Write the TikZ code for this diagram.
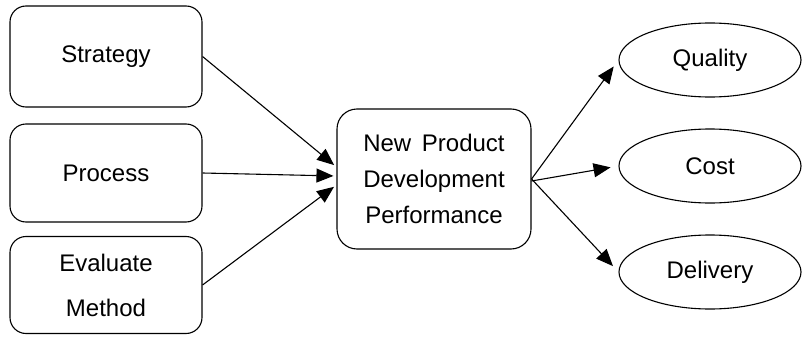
\documentclass[tikz,border=0pt]{standalone}
\usepackage{fontspec}
\setmainfont{Liberation Sans}
\usetikzlibrary{arrows.meta,shapes.geometric}
\begin{document}
\begin{tikzpicture}[x=1pt,y=-1pt,
  every node/.style={font=\fontsize{24}{36}\selectfont},
  leftbox/.style={draw,line width=1.1pt,rounded corners=16pt,minimum width=192pt,inner sep=0pt,align=center},
  midbox/.style={draw,line width=1.1pt,rounded corners=20pt,minimum width=194pt,minimum height=140pt,inner sep=0pt,align=center},
  oval/.style={draw,line width=1.1pt,ellipse,minimum width=182pt,minimum height=74pt,inner sep=0pt},
  conn/.style={line width=1.1pt,-{Triangle[length=17pt,width=14pt]}}]
\useasboundingbox (0,0) rectangle (803,337);
\node[leftbox,minimum height=101pt] (s) at (106,56.5) {Strategy};
\node[leftbox,minimum height=98pt] (p) at (106,173) {Process};
\node[leftbox,minimum height=97pt,font=\fontsize{24}{45}\selectfont] (e) at (106,285) {Evaluate\\Method};
\node[midbox] (c) at (434,179) {New\,\ Product\\Development\\Performance};
\node[oval] (q) at (710,60) {Quality};
\node[oval] (k) at (710,166) {Cost};
\node[oval] (d) at (710,272) {Delivery};
\draw[conn,shorten >=3pt] (s.east) -- ([yshift=12pt]c.west);
\draw[conn,shorten >=3pt] (p.east) -- ([yshift=3pt]c.west);
\draw[conn,shorten >=3pt] (e.east) -- ([yshift=-6pt]c.west);
\draw[conn,shorten >=8pt] (c.east) -- (q.west);
\draw[conn,shorten >=8pt] ([yshift=-2pt]c.east) -- (k.west);
\draw[conn,shorten >=8pt] (c.east) -- (d.west);
\end{tikzpicture}
\end{document}
